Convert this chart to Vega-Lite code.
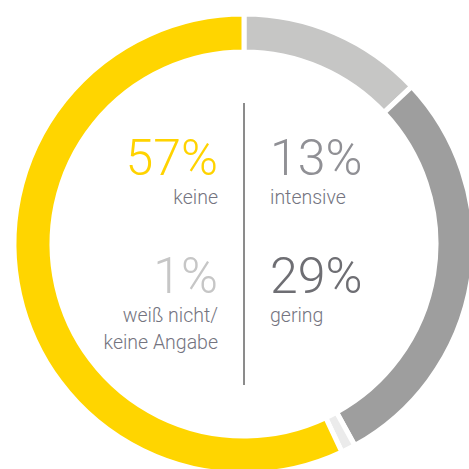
{
  "$schema": "https://vega.github.io/schema/vega-lite/v6.json",
  "width": 488,
  "height": 488,
  "autosize": "none",
  "padding": 0,
  "background": "white",
  "config": {"view": {"stroke": null}},
  "data": {
    "values": [
      {"category": "intensive", "share": 0.13, "ord": 1, "label": "intensive", "side": "right", "row": "top"},
      {"category": "gering", "share": 0.29, "ord": 2, "label": "gering", "side": "right", "row": "bottom"},
      {"category": "weiß nicht", "share": 0.01, "ord": 3, "label": "weiß nicht/\nkeine Angabe", "side": "left", "row": "bottom"},
      {"category": "keine", "share": 0.57, "ord": 4, "label": "keine", "side": "left", "row": "top"}
    ]
  },
  "resolve": {"scale": {"color": "independent"}},
  "layer": [
    {
      "mark": {"type": "arc", "radius": 230, "radius2": 192, "stroke": "white", "strokeWidth": 5},
      "encoding": {
        "theta": {"field": "share", "type": "quantitative", "stack": true},
        "order": {"field": "ord", "type": "quantitative"},
        "color": {"field": "category", "type": "nominal", "legend": null,
          "scale": {"domain": ["intensive", "gering", "weiß nicht", "keine"], "range": ["#c6c6c5", "#9e9e9e", "#ebebeb", "#ffd500"]}}
      }
    },
    {
      "mark": {"type": "rule", "y": 103, "y2": 385, "color": "#8c8c8c", "strokeWidth": 1.6},
      "encoding": {
        "x": {"datum": "divider", "type": "nominal", "axis": null}
      }
    },
    {
      "transform": [{"filter": "datum.side === 'left'"}],
      "mark": {"type": "text", "align": "right", "baseline": "alphabetic", "font": "Roboto", "fontWeight": 300, "fontSize": 50},
      "encoding": {
        "x": {"field": "side", "type": "nominal", "axis": null, "scale": {"type": "point", "domain": ["left", "divider", "right"], "range": [218, 270], "padding": 0}},
        "y": {"field": "row", "type": "nominal", "axis": null, "scale": {"type": "point", "domain": ["top", "bottom"], "range": [175, 293], "padding": 0}},
        "text": {"field": "share", "type": "quantitative", "format": ".0%"},
        "color": {"field": "category", "type": "nominal", "legend": null,
          "scale": {"domain": ["intensive", "gering", "weiß nicht", "keine"], "range": ["#909095", "#6e6e73", "#c6c6c6", "#ffd300"]}}
      }
    },
    {
      "transform": [{"filter": "datum.side === 'right'"}],
      "mark": {"type": "text", "align": "left", "baseline": "alphabetic", "font": "Roboto", "fontWeight": 300, "fontSize": 50},
      "encoding": {
        "x": {"field": "side", "type": "nominal", "axis": null},
        "y": {"field": "row", "type": "nominal", "axis": null},
        "text": {"field": "share", "type": "quantitative", "format": ".0%"},
        "color": {"field": "category", "type": "nominal", "legend": null,
          "scale": {"domain": ["intensive", "gering", "weiß nicht", "keine"], "range": ["#909095", "#6e6e73", "#c6c6c6", "#ffd300"]}}
      }
    },
    {
      "transform": [{"filter": "datum.side === 'left'"}],
      "mark": {"type": "text", "align": "right", "baseline": "alphabetic", "font": "Roboto", "fontWeight": 300, "fontSize": 19.5, "dy": 29, "lineBreak": "\n", "lineHeight": 27, "color": "#747480"},
      "encoding": {
        "x": {"field": "side", "type": "nominal", "axis": null},
        "y": {"field": "row", "type": "nominal", "axis": null},
        "text": {"field": "label", "type": "nominal"}
      }
    },
    {
      "transform": [{"filter": "datum.side === 'right'"}],
      "mark": {"type": "text", "align": "left", "baseline": "alphabetic", "font": "Roboto", "fontWeight": 300, "fontSize": 19.5, "dy": 29, "lineBreak": "\n", "lineHeight": 27, "color": "#747480"},
      "encoding": {
        "x": {"field": "side", "type": "nominal", "axis": null},
        "y": {"field": "row", "type": "nominal", "axis": null},
        "text": {"field": "label", "type": "nominal"}
      }
    }
  ]
}
